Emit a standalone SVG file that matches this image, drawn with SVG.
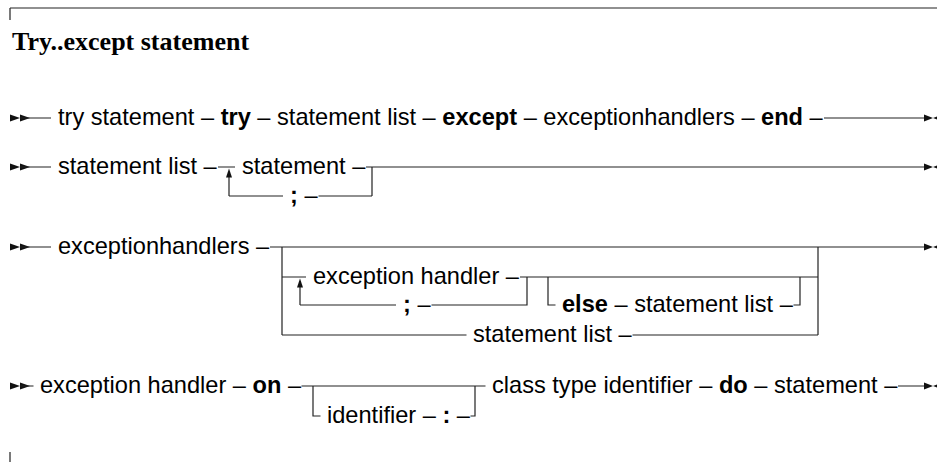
<svg xmlns="http://www.w3.org/2000/svg" xmlns:xlink="http://www.w3.org/1999/xlink" width="937" height="462" viewBox="0 0 937 462">
<style>
.t{font-family:"Liberation Sans",Arial,Helvetica,sans-serif;font-size:23.6px;fill:#000}
.b{font-weight:bold}
.ttl{font-family:"Liberation Serif","Times New Roman",serif;font-size:26px;font-weight:bold;fill:#000}
.ln{stroke:#222;stroke-width:1.2;fill:none}
.ah{fill:#111;stroke:none}
</style>
<defs>
<g id="startmark"><polygon class="ah" points="0,-3.5 10,0 0,3.5"/><polygon class="ah" points="10,-3.5 20,0 10,3.5"/></g>
<g id="endmark"><polygon class="ah" points="-9,-3.5 0,0 -9,3.5"/><polygon class="ah" points="9,-3.5 0,0 9,3.5"/></g>
<polygon id="uparrow" class="ah" points="-3,9 0,0 3,9"/>
</defs>

<g id="frame">
<path class="ln" d="M10,8 H937 M10,8 V20 M10,452 V462"/>
</g>
<g id="title"><text class="ttl" x="12" y="50">Try..except statement</text></g>

<g id="connectors">
<!-- row 1 -->
<use xlink:href="#startmark" x="10" y="118"/>
<path class="ln" d="M20,118 H51 M824,118 H925"/>
<use xlink:href="#endmark" x="933" y="118"/>
<!-- row 2 -->
<use xlink:href="#startmark" x="10" y="167"/>
<path class="ln" d="M20,167 H51 M218,167 H235 M366,167 H925 M372,167 V196 M229,196 H283 M318.5,196 H372 M229,196 V172"/>
<use xlink:href="#uparrow" x="229" y="168.5"/>
<use xlink:href="#endmark" x="933" y="167"/>
<!-- row 3 -->
<use xlink:href="#startmark" x="10" y="247"/>
<path class="ln" d="M20,247 H51 M270,247 H925 M282,247 V335 M818,247 V335 M282,277 H306 M520,277 H818 M300,305 V281 M300,305 H396 M431.5,305 H527 V277 M548,277 V305 H555.5 M793.5,305 H800 V277 M282,335 H466.5 M632.5,335 H818"/>
<use xlink:href="#uparrow" x="300" y="278.5"/>
<use xlink:href="#endmark" x="933" y="247"/>
<!-- row 4 -->
<use xlink:href="#startmark" x="10" y="386"/>
<path class="ln" d="M20,386 H33.5 M301.5,386 H485.5 M313,386 V416 H320.5 M470.5,416 H475 V386 M898,386 H925"/>
<use xlink:href="#endmark" x="933" y="386"/>
</g>

<!-- row 1 nodes -->
<g id="r1-try-statement"><text class="t" x="58" y="124.5">try statement –</text></g>
<g id="r1-try"><text class="t" x="220.65" y="124.5"><tspan class="b">try</tspan> –</text></g>
<g id="r1-statement-list"><text class="t" x="277.05" y="124.5">statement list –</text></g>
<g id="r1-except"><text class="t" x="442.32" y="124.5"><tspan class="b">except</tspan> –</text></g>
<g id="r1-exceptionhandlers"><text class="t" x="543.33" y="124.5">exceptionhandlers –</text></g>
<g id="r1-end"><text class="t" x="761.09" y="124.5"><tspan class="b">end</tspan> –</text></g>

<!-- row 2 nodes -->
<g id="r2-statement-list"><text class="t" x="58" y="173.5">statement list –</text></g>
<g id="r2-statement"><text class="t" x="242" y="173.5">statement –</text></g>
<g id="r2-semicolon"><text class="t" x="290" y="202.5"><tspan class="b">;</tspan> –</text></g>

<!-- row 3 nodes -->
<g id="r3-exceptionhandlers"><text class="t" x="58" y="253.5">exceptionhandlers –</text></g>
<g id="r3-exception-handler"><text class="t" x="313" y="283.5">exception handler –</text></g>
<g id="r3-semicolon"><text class="t" x="403" y="311.5"><tspan class="b">;</tspan> –</text></g>
<g id="r3-else"><text class="t" x="562" y="311.5"><tspan class="b">else</tspan> –</text></g>
<g id="r3-else-statement-list"><text class="t" x="634.15" y="311.5">statement list –</text></g>
<g id="r3-statement-list"><text class="t" x="473" y="341.5">statement list –</text></g>

<!-- row 4 nodes -->
<g id="r4-exception-handler"><text class="t" x="40" y="392.5">exception handler –</text></g>
<g id="r4-on"><text class="t" x="252.5" y="392.5"><tspan class="b">on</tspan> –</text></g>
<g id="r4-identifier"><text class="t" x="327" y="422.5">identifier –</text></g>
<g id="r4-colon"><text class="t" x="442.4" y="422.5"><tspan class="b">:</tspan> –</text></g>
<g id="r4-class-type-identifier"><text class="t" x="492" y="392.5">class type identifier –</text></g>
<g id="r4-do"><text class="t" x="718.9" y="392.5"><tspan class="b">do</tspan> –</text></g>
<g id="r4-statement"><text class="t" x="774" y="392.5">statement –</text></g>
</svg>
